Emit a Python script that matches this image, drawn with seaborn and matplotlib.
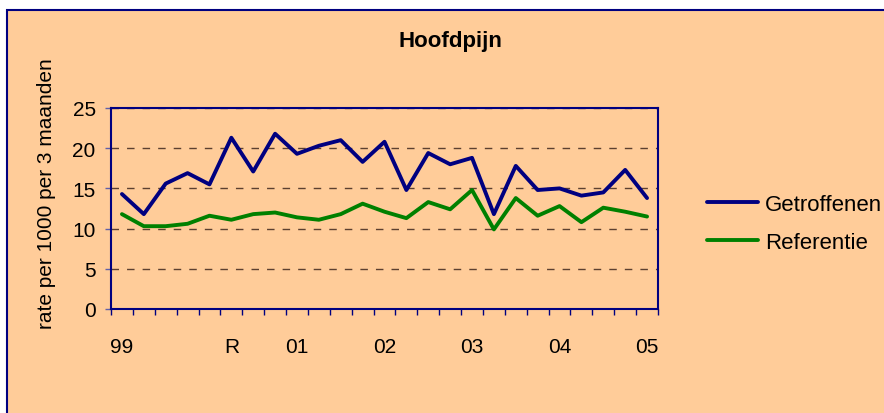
import numpy as np
import pandas as pd
import matplotlib
matplotlib.use("Agg")
import matplotlib.pyplot as plt
from matplotlib.patches import Rectangle
import seaborn as sns

# ---- data ----
quarters = list(range(25))
getroffenen = [14.3, 11.8, 15.6, 16.9, 15.5, 21.3, 17.1, 21.8, 19.3, 20.3, 21.0, 18.3, 20.8,
               14.8, 19.4, 18.0, 18.8, 11.8, 17.8, 14.8, 15.0, 14.1, 14.5, 17.3, 13.8]
referentie = [11.8, 10.3, 10.3, 10.6, 11.6, 11.1, 11.8, 12.0, 11.4, 11.1, 11.8, 13.1, 12.1,
              11.3, 13.3, 12.4, 14.8, 9.9, 13.8, 11.6, 12.8, 10.8, 12.6, 12.1, 11.5]
series_names = ["Getroffenen", "Referentie"]
label_positions = [0, 5, 8, 12, 16, 20, 24]
label_texts = ["99", "R", "01", "02", "03", "04", "05"]
y_ticks = [0, 5, 10, 15, 20, 25]

title = "Hoofdpijn"
ylabel = "rate per 1000 per 3 maanden"

NAVY = "#000080"
GREEN = "#008000"
BG = "#FFCC99"

df = pd.DataFrame({
    "q": quarters * 2,
    "value": getroffenen + referentie,
    "series": [series_names[0]] * len(quarters) + [series_names[1]] * len(quarters),
})

sns.set_style("white")
plt.rcParams["font.family"] = ["Liberation Sans", "DejaVu Sans"]
plt.rcParams["font.size"] = 15
plt.rcParams["text.color"] = "black"
plt.rcParams["axes.labelcolor"] = "black"
plt.rcParams["xtick.color"] = "black"
plt.rcParams["ytick.color"] = "black"

W, H = 884, 414
fig = plt.figure(figsize=(W / 100, H / 100), dpi=100)
fig.patch.set_facecolor("white")

# chart-area background (cropped Excel chart frame)
bg = Rectangle((7 / W, -0.05), 1.1, (H - 10.5) / H + 0.05, transform=fig.transFigure,
               facecolor=BG, edgecolor=NAVY, linewidth=1.5, zorder=-10)
fig.patches.append(bg)

ax = fig.add_axes([111 / W, (H - 310) / H, (658 - 111) / W, (310 - 109) / H])
ax.set_zorder(1)
ax.set_facecolor(BG)

sns.lineplot(data=df, x="q", y="value", hue="series", palette=[NAVY, GREEN],
             linewidth=2.8, ax=ax, legend=True)

ax.set_xlim(-0.5, len(quarters) - 0.5)
ax.set_ylim(0, 25)

# x: tick marks at category boundaries, labels at category centres
ax.set_xticks(np.arange(-0.5, len(quarters), 1.0))
ax.set_xticklabels([])
ax.set_xticks(label_positions, minor=True)
ax.set_xticklabels(label_texts, minor=True)
ax.tick_params(axis="x", which="major", direction="out", length=4, width=1, color=NAVY, bottom=True)
ax.tick_params(axis="x", which="minor", length=0, pad=20, labelsize=15, bottom=True)

ax.set_yticks(y_ticks)
ax.tick_params(axis="y", which="major", direction="out", length=4, width=1, color="#6060A8",
               pad=7, labelsize=15, left=True)

ax.yaxis.grid(True, linestyle=(0, (5.4, 5.8)), color="#5C4030", linewidth=1)
ax.xaxis.grid(False)
ax.set_axisbelow(True)

for s in ax.spines.values():
    s.set_visible(True)
    s.set_color(NAVY)
    s.set_linewidth(1.5)

ax.set_xlabel("")
ax.set_ylabel(ylabel, fontsize=15)
ax.yaxis.set_label_coords(-0.1005, 0.577)

fig.text(450 / W, (H - 42) / H, title, ha="center", va="center", fontsize=16, fontweight="bold")

handles, labels = ax.get_legend_handles_labels()
ax.get_legend().remove()
fig.legend(handles, labels, loc="center left", bbox_to_anchor=(707 / W, (H - 224.5) / H),
           frameon=False, fontsize=16, borderpad=0, borderaxespad=0,
           handlelength=2.3, handletextpad=0.3, labelspacing=0.75)

fig.savefig("out.png", dpi=100, facecolor=fig.get_facecolor())
